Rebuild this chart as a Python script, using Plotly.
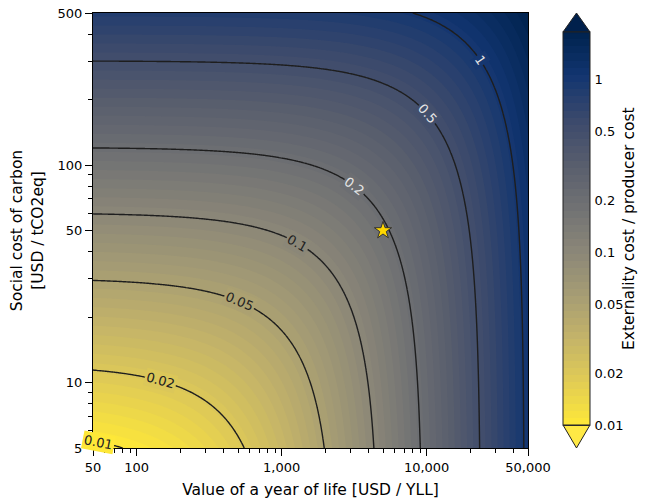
import numpy as np
import plotly.graph_objects as go
from plotly.colors import sample_colorscale, sequential

# ---- data ----
x_limits = [50, 50000]          # value of a year of life [USD / YLL]
y_limits = [5, 500]             # social cost of carbon [USD / tCO2eq]
coef_per_usd_yll = 2.12e-5      # ratio contribution per USD/YLL
coef_per_usd_tco2 = 1.66e-3     # ratio contribution per USD/tCO2eq
line_levels = [0.01, 0.02, 0.05, 0.1, 0.2, 0.5, 1]
line_label_text = ["0.01", "0.02", "0.05", "0.1", "0.2", "0.5", "1"]
line_label_colors = ["#222", "#222", "#222", "#222", "#e6e6e6", "#e6e6e6", "#e6e6e6"]
fill_level_count = 55
star_x = [5000]
star_y = [50]
x_major_vals = [50, 100, 1000, 10000, 50000]
x_major_text = ["50", "100", "1,000", "10,000", "50,000"]
x_minor_vals = [60, 70, 80, 90, 200, 300, 400, 500, 600, 700, 800, 900,
                2000, 3000, 4000, 5000, 6000, 7000, 8000, 9000, 20000, 30000, 40000]
y_major_vals = [5, 10, 50, 100, 500]
y_major_text = ["5", "10", "50", "100", "500"]
y_minor_vals = [6, 7, 8, 9, 20, 30, 40, 60, 70, 80, 90, 200, 300, 400]
cbar_tick_vals = [0.01, 0.02, 0.05, 0.1, 0.2, 0.5, 1]
cbar_tick_text = ["0.01", "0.02", "0.05", "0.1", "0.2", "0.5", "1"]

# ---- layout geometry (pixels); body margin removed via post_script ----
OFF = 0
W, H = 647 - OFF, 503 - OFF
ML, MR, MT, MB = 93 - OFF, 119, 13 - OFF, 55
PW, PH = W - ML - MR, H - MT - MB
TITLE_SIZE = 15.5


def px2paper(px, py):
    """page pixel -> paper coords"""
    return (px - OFF - ML) / PW, (MT + PH - (py - OFF)) / PH


# ---- grid ----
lx0, lx1 = np.log10(x_limits)
ly0, ly1 = np.log10(y_limits)
xs = np.logspace(lx0, lx1, 300)
ys = np.logspace(ly0, ly1, 300)
X, Y = np.meshgrid(xs, ys)
F = coef_per_usd_yll * X + coef_per_usd_tco2 * Y
zmax = float(np.log10(F.max()))
zmin = -2.0

FONT = "DejaVu Sans"
cscale = sequential.Cividis[::-1]
fig = go.Figure()

cb_x, cb_top = px2paper(563, 32)
fig.add_trace(go.Contour(
    x=xs, y=ys, z=np.log10(F),
    colorscale="Cividis", reversescale=True,
    zmin=zmin, zmax=zmax,
    autocontour=False,
    contours=dict(start=zmin, end=zmax, size=(zmax - zmin) / fill_level_count,
                  coloring="fill", showlines=False),
    line=dict(width=0),
    hoverinfo="skip",
    colorbar=dict(
        thickness=27, lenmode="pixels", len=393,
        x=cb_x, xanchor="left", xpad=0,
        y=cb_top, yanchor="top", ypad=0,
        outlinewidth=1, outlinecolor="#222",
        tickvals=list(np.log10(cbar_tick_vals)), ticktext=cbar_tick_text,
        ticks="outside", ticklen=2, tickcolor="rgba(0,0,0,0)",
        tickfont=dict(family=FONT, size=13, color="black"),
    ),
))

for lvl in line_levels:
    fig.add_trace(go.Contour(
        x=xs, y=ys, z=F,
        autocontour=False,
        contours=dict(start=lvl, end=lvl, size=1, coloring="none", showlabels=False),
        line=dict(color="#1e1e1e", width=1.4),
        showscale=False, hoverinfo="skip",
    ))

# inline contour labels: placed where each contour crosses the axes diagonal
t = np.linspace(0, 1, 20001)
xd = 10 ** (lx0 + t * (lx1 - lx0))
yd = 10 ** (ly0 + t * (ly1 - ly0))
fd = coef_per_usd_yll * xd + coef_per_usd_tco2 * yd
for lvl, txt, lc in zip(line_levels, line_label_text, line_label_colors):
    tt = float(np.interp(lvl, fd, t))
    xl = 10 ** (lx0 + tt * (lx1 - lx0))
    yl = 10 ** (ly0 + tt * (ly1 - ly0))
    dfdu = coef_per_usd_yll * xl * np.log(10) * (lx1 - lx0) / PW
    dfdv = coef_per_usd_tco2 * yl * np.log(10) * (ly1 - ly0) / PH
    ang = np.degrees(np.arctan2(-dfdu, dfdv))
    if ang > 90:
        ang -= 180
    if ang < -90:
        ang += 180
    bg = sample_colorscale(cscale, [(np.log10(lvl) - zmin) / (zmax - zmin)])[0]
    fig.add_annotation(x=np.log10(xl), y=np.log10(yl), xref="x", yref="y",
                       text=txt, showarrow=False, textangle=-ang,
                       font=dict(family=FONT, size=13, color=lc),
                       bgcolor=bg, borderpad=1)

fig.add_trace(go.Scatter(
    x=star_x, y=star_y, mode="markers",
    marker=dict(symbol="star", size=13, color="#FFD700",
                line=dict(color="#333", width=1)),
    showlegend=False, hoverinfo="skip",
))

# colorbar extension triangles and level lines
cmax_col = "rgb(0,32,76)"
cmin_col = "rgb(255,233,69)"
l, t_ = px2paper(563, 32)
r, _ = px2paper(590, 32)
mid, tip = px2paper(576.5, 13)
fig.add_shape(type="path", xref="paper", yref="paper",
              path=f"M {l} {t_} L {mid} {tip} L {r} {t_} Z",
              fillcolor=cmax_col, line=dict(color="#222", width=1))
_, b = px2paper(563, 425)
_, tipb = px2paper(576.5, 448)
fig.add_shape(type="path", xref="paper", yref="paper",
              path=f"M {l} {b} L {mid} {tipb} L {r} {b} Z",
              fillcolor=cmin_col, line=dict(color="#222", width=1))
for v in line_levels:
    frac = (np.log10(v) - zmin) / (zmax - zmin)
    py = 425 - frac * 393
    _, yy = px2paper(0, py)
    fig.add_shape(type="line", xref="paper", yref="paper",
                  x0=l, x1=r, y0=yy, y1=yy, line=dict(color="#333", width=2))

cx, cy = px2paper(640, 229)
fig.add_annotation(x=cx, y=cy, xref="paper", yref="paper",
                   text="Externality cost / producer cost", showarrow=False,
                   textangle=-90, font=dict(family=FONT, size=TITLE_SIZE, color="black"))

axis_common = dict(type="log", showgrid=False, zeroline=False, automargin=False,
                   ticklabeloverflow="allow",
                   showline=True, linecolor="black", linewidth=1, mirror=True,
                   ticks="outside", ticklen=7, tickwidth=1, tickcolor="black",
                   tickfont=dict(family=FONT, size=13, color="black"))
fig.update_xaxes(**axis_common,
                 range=[lx0, lx1],
                 tickmode="array", tickvals=x_major_vals, ticktext=x_major_text,
                 minor=dict(tickmode="array", tickvals=x_minor_vals, ticks="outside",
                            ticklen=4, tickwidth=1, tickcolor="black", showgrid=False),
                 title=dict(text="Value of a year of life [USD / YLL]",
                            font=dict(family=FONT, size=TITLE_SIZE, color="black"),
                            standoff=10))
fig.update_yaxes(**axis_common,
                 range=[ly0, ly1],
                 tickmode="array", tickvals=y_major_vals, ticktext=y_major_text,
                 minor=dict(tickmode="array", tickvals=y_minor_vals, ticks="outside",
                            ticklen=4, tickwidth=1, tickcolor="black", showgrid=False),
                 title=dict(text="Social cost of carbon<br>[USD / tCO2eq]",
                            font=dict(family=FONT, size=TITLE_SIZE, color="black"),
                            standoff=10))

fig.update_layout(
    width=W, height=H,
    margin=dict(l=ML, r=MR, t=MT, b=MB, autoexpand=False),
    paper_bgcolor="white", plot_bgcolor="white",
    showlegend=False,
    font=dict(family=FONT, size=13, color="black"),
)
fig.write_html("out.html", config={"displayModeBar": False},
               post_script="document.body.style.margin='0';document.body.style.overflow='hidden';")
